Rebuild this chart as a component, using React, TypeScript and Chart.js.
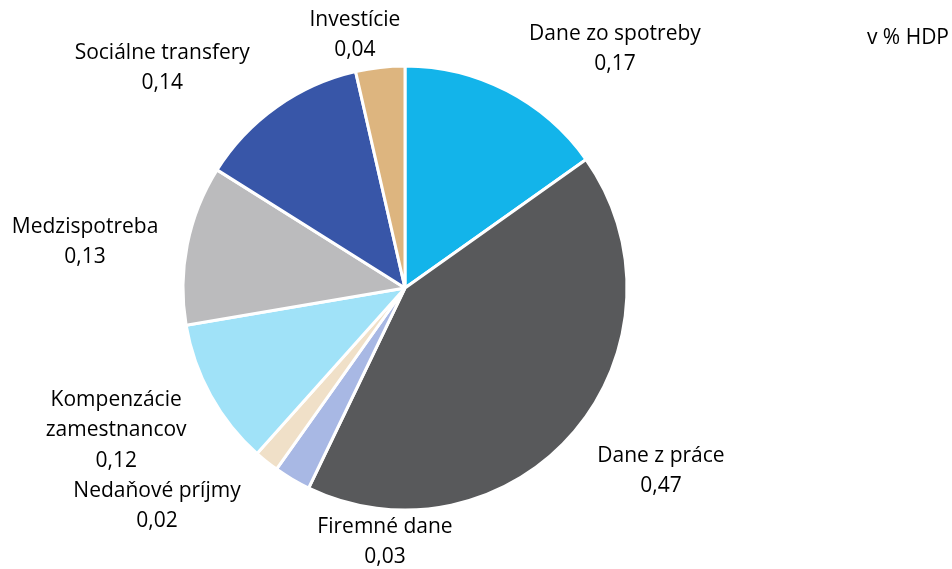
import React, { useEffect, useRef } from "react";
import { Chart, registerables } from "chart.js";

Chart.register(...registerables);

const categories = [
  "Dane zo spotreby",
  "Dane z práce",
  "Firemné dane",
  "Nedaňové príjmy",
  "Kompenzácie zamestnancov",
  "Medzispotreba",
  "Sociálne transfery",
  "Investície",
];
const labelLines = [
  ["Dane zo spotreby"],
  ["Dane z práce"],
  ["Firemné dane"],
  ["Nedaňové príjmy"],
  ["Kompenzácie", "zamestnancov"],
  ["Medzispotreba"],
  ["Sociálne transfery"],
  ["Investície"],
];
const values = [0.17, 0.47, 0.03, 0.02, 0.12, 0.13, 0.14, 0.04];
const colors = ["#13B4EA", "#58595B", "#A8B8E4", "#F0E0C8", "#A0E2F8", "#BBBBBD", "#3856A8", "#DDB57F"];
const unitLabel = "v % HDP";

// label placement: [angle in degrees clockwise from top, distance as multiple of radius]
const labelPlacement: [number, number][] = [
  [41.3, 1.433],
  [125.6, 1.418],
  [184.5, 1.148],
  [228.7, 1.487],
  [243.8, 1.45],
  [278.2, 1.456],
  [312.2, 1.476],
  [348.8, 1.162],
];

const FONT = "'Open Sans', Lato, sans-serif";

const fmt = (v: number) => v.toFixed(2).replace(".", ",");

const labelPlugin = {
  id: "pieLabels",
  afterDraw(chart: any) {
    const ctx = chart.ctx;
    const meta = chart.getDatasetMeta(0);
    ctx.save();
    ctx.fillStyle = "#000";
    ctx.font = `21px ${FONT}`;
    ctx.textAlign = "center";
    ctx.textBaseline = "middle";
    meta.data.forEach((arc: any, i: number) => {
      const [deg, f] = labelPlacement[i];
      const a = (deg * Math.PI) / 180;
      const cx = arc.x + Math.sin(a) * arc.outerRadius * f;
      const cy = arc.y - Math.cos(a) * arc.outerRadius * f;
      const lines = [...labelLines[i], fmt(values[i])];
      const lh = 30.5;
      const start = cy - ((lines.length - 1) * lh) / 2;
      lines.forEach((t, j) => ctx.fillText(t, cx, start + j * lh));
    });
    ctx.textAlign = "right";
    ctx.fillText(unitLabel, chart.width - 3, 38);
    ctx.restore();
  },
};

export default function App() {
  const ref = useRef<HTMLCanvasElement>(null);
  useEffect(() => {
    if (!ref.current) return;
    const chart = new Chart(ref.current, {
      type: "pie",
      data: {
        labels: categories,
        datasets: [
          {
            data: values,
            backgroundColor: colors,
            borderColor: "#ffffff",
            borderWidth: 3,
            hoverOffset: 0,
          },
        ],
      },
      options: {
        animation: false,
        responsive: false,
        radius: 222,
        layout: { padding: { left: 0, right: 142, top: 7, bottom: 0 } },
        plugins: {
          legend: { display: false },
          tooltip: { enabled: false },
        },
      } as any,
      plugins: [labelPlugin],
    });
    return () => chart.destroy();
  }, []);
  return (
    <div style={{ position: "fixed", left: 0, top: 0, width: 952, height: 569, background: "#fff" }}>
      <canvas ref={ref} width={952} height={569} />
    </div>
  );
}
